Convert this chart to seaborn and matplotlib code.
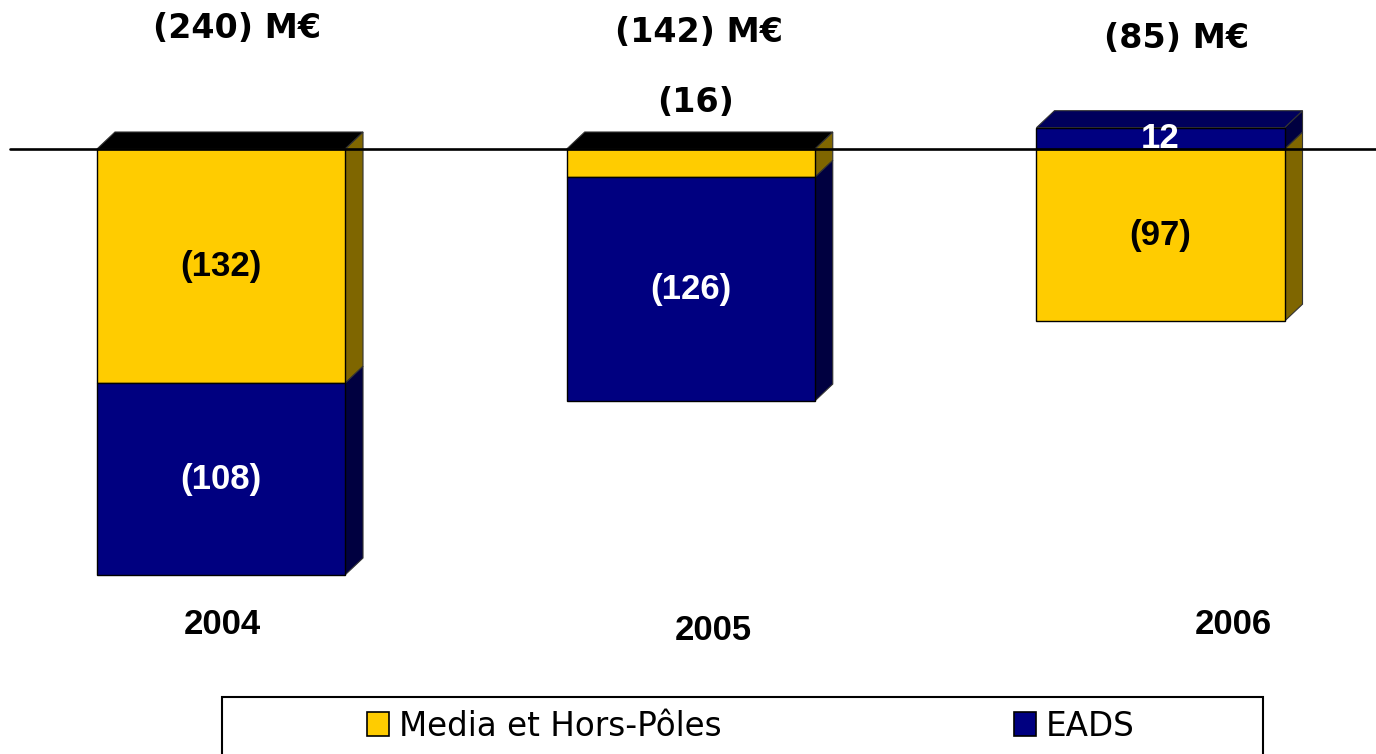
import matplotlib
matplotlib.use("Agg")
import matplotlib.pyplot as plt
from matplotlib.patches import Polygon, Patch, Rectangle
import seaborn as sns
import pandas as pd
import numpy as np

# data (M€, negative = loss contribution)
years = ["2004", "2005", "2006"]
media = [-132, -16, -97]
eads = [-108, -126, 12]
media_labels = ["(132)", "(16)", "(97)"]
eads_labels = ["(108)", "(126)", "12"]
total_labels = ["(240) M€", "(142) M€", "(85) M€"]
legend_names = ["Media et Hors-Pôles", "EADS"]

YELLOW = "#FFCC00"
NAVY = "#000080"
YELLOW_SIDE = "#7F6600"
NAVY_SIDE = "#000040"
NAVY_TOP = "#00005C"

W, H = 1376, 754
sns.set_theme(style="white")
plt.rcParams["font.family"] = ["Liberation Sans", "DejaVu Sans"]
plt.rcParams["text.color"] = "black"

fig = plt.figure(figsize=(W / 100, H / 100), dpi=100)
ax = fig.add_axes([0, 0, 1, 1])

df = pd.DataFrame({"year": years, "media": media, "eads": eads})
# EADS sits under the media block when negative, on the zero line when positive
eads_bottom = np.where(np.array(eads) < 0, media, 0)

bar_w = 0.528
sns.barplot(data=df, x="year", y="media", color=YELLOW, saturation=1, width=bar_w,
            errorbar=None, edgecolor="black", linewidth=1.0, ax=ax, zorder=3)
sns.barplot(data=df, x="year", y="eads", color=NAVY, saturation=1, width=bar_w,
            errorbar=None, bottom=eads_bottom, edgecolor="black", linewidth=1.0,
            ax=ax, zorder=3)

# fake 3d depth
dx, dy = 18 / 469.75, 17 / 1.775
for i in range(len(years)):
    xl, xr = i - bar_w / 2, i + bar_w / 2
    segs = [(0, media[i], YELLOW_SIDE), (eads_bottom[i], eads[i], NAVY_SIDE)]
    for b, h, c in segs:
        y0, y1 = min(b, b + h), max(b, b + h)
        ax.add_patch(Polygon([(xr, y0), (xr + dx, y0 + dy), (xr + dx, y1 + dy), (xr, y1)],
                             closed=True, fc=c, ec="#333333", lw=0.8, zorder=2))
    ytop = max(0, eads_bottom[i] + eads[i])
    top_c = NAVY_TOP if ytop > 0 else "black"
    ax.add_patch(Polygon([(xl, ytop), (xl + dx, ytop + dy), (xr + dx, ytop + dy), (xr, ytop)],
                         closed=True, fc=top_c, ec="#333333", lw=0.8, zorder=2))

ax.axhline(0, xmin=10 / W, xmax=1, color="black", lw=1.9, zorder=4)

# segment labels
for i in range(len(years)):
    if i == 1:
        # small slice: label sits above the bar
        ax.text(i + 0.01, 26, media_labels[i], ha="center", va="center", fontsize=24,
                fontweight="bold", family=["DejaVu Sans"], color="black", zorder=5)
    else:
        ax.text(i, media[i] / 2, media_labels[i], ha="center", va="center", fontsize=25,
                fontweight="bold", color="black", zorder=5)
    ax.text(i, eads_bottom[i] + eads[i] / 2, eads_labels[i], ha="center", va="center",
            fontsize=25, fontweight="bold", color="white", zorder=5)

ax.set_xlim(-221 / 469.75, (W - 221) / 469.75)
ax.set_ylim(-(H - 149) / 1.775, 149 / 1.775)
ax.set_axis_off()

# totals and year captions
head_pos = [(237, 29), (699, 32), (1177, 38)]
for (px, py), t in zip(head_pos, total_labels):
    fig.text(px / W, 1 - py / H, t, ha="center", va="center", fontsize=24,
             fontweight="bold", family=["DejaVu Sans"], color="black")
year_pos = [(222, 625), (713, 630), (1233, 625)]
for (px, py), t in zip(year_pos, years):
    fig.text(px / W, 1 - py / H, t, ha="center", va="center", fontsize=25,
             fontweight="bold", color="black")

# legend
handles = [Patch(facecolor=YELLOW, edgecolor="black", lw=1.2, label=legend_names[0]),
           Patch(facecolor=NAVY, edgecolor="black", lw=1.2, label=legend_names[1])]
leg = fig.legend(handles=handles, loc="center left", bbox_to_anchor=(367 / W, 1 - 726 / H),
                 ncol=2, frameon=False, prop={"family": "DejaVu Sans", "size": 23.5},
                 handlelength=0.68, handleheight=0.74, handletextpad=0.3,
                 columnspacing=8.95, borderpad=0, borderaxespad=0)
for t in leg.get_texts():
    t.set_color("black")
fig.add_artist(Rectangle((222 / W, -0.01), (1263 - 222) / W, (H - 697) / H + 0.01,
                         transform=fig.transFigure, fill=False, ec="black", lw=1.5))

fig.savefig("out.png", dpi=100)
